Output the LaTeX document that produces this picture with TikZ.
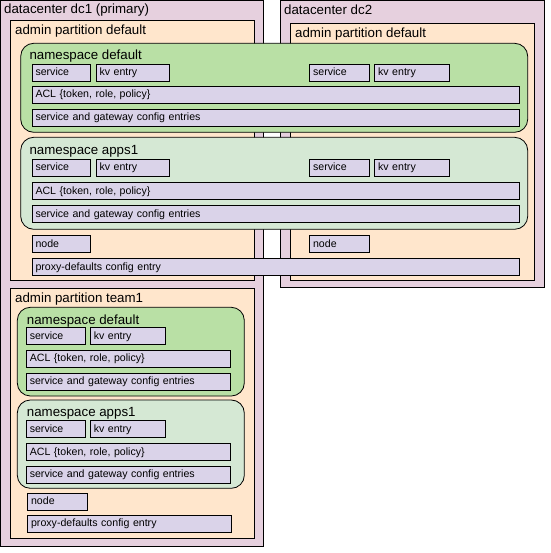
\documentclass[tikz,border=0pt]{standalone}
\usepackage{fontspec}
\setmainfont{Liberation Sans}
\definecolor{dcpink}{HTML}{E6D0DE}
\definecolor{peach}{HTML}{FFE6CC}
\definecolor{nsgreen}{HTML}{B9E0A5}
\definecolor{nslight}{HTML}{D5E8D4}
\definecolor{lav}{HTML}{DAD3E9}
\tikzset{
  dcbox/.style={draw=black, line width=1pt, fill=dcpink},
  partbox/.style={draw=black, line width=1pt, fill=peach},
  nsdef/.style={draw=black, line width=0.8pt, fill=nsgreen, rounded corners=13pt},
  nsapp/.style={draw=black, line width=0.8pt, fill=nslight, rounded corners=13pt},
  hdr/.style={anchor=base west, inner sep=0pt, font=\fontsize{13.3}{15}\selectfont},
  item/.style={draw=black, line width=1pt, fill=lav, anchor=north west, inner xsep=3.3pt,
    inner ysep=0pt, minimum height=17pt, text height=8pt, text depth=2.6pt,
    align=left, font=\fontsize{10.6}{12}\selectfont}
}
\begin{document}
\begin{tikzpicture}[x=1pt,y=-1pt]
  \useasboundingbox (0,0) rectangle (550,553);

  % datacenter dc1
  \draw[dcbox] (0.5,0.5) rectangle (263.3,546);
  \node[hdr] (dc1lbl) at (4,14) {datacenter dc1 (primary)};
  \draw[partbox] (10.7,20.7) rectangle (254,280);
  \node[hdr] (dc1part) at (15,34.3) {admin partition default};

  % datacenter dc2
  \draw[dcbox] (280.7,0.5) rectangle (544.3,287.7);
  \node[hdr] (dc2lbl) at (284,14.5) {datacenter dc2};
  \draw[partbox] (290.7,24) rectangle (534,280);
  \node[hdr] (dc2part) at (295,37.3) {admin partition default};

  % namespace default, both datacenters
  \draw[nsdef] (20.7,43.3) rectangle (527.7,132.3);
  \node[hdr] (nsdefA) at (29.3,60) {namespace default};
  \node[item, text width=51.7pt] (svcA) at (31.7,64) {service};
  \node[item, text width=67pt] (kvA) at (95.7,64) {kv entry};
  \node[item, text width=53.1pt] (svcB) at (309.3,64) {service};
  \node[item, text width=67.8pt] (kvB) at (374.3,64) {kv entry};
  \node[item, text width=481pt] (aclA) at (31.7,86.3) {ACL \{token, role, policy\}};
  \node[item, text width=481pt] (cfgA) at (31.7,108.8) {service and gateway config entries};

  % namespace apps1, both datacenters
  \draw[nsapp] (20.7,137.3) rectangle (527.7,229.3);
  \node[hdr] (nsappA) at (29.3,154.3) {namespace apps1};
  \node[item, text width=51.7pt] (svcC) at (31.7,159.3) {service};
  \node[item, text width=67pt] (kvC) at (95.7,159.3) {kv entry};
  \node[item, text width=53.1pt] (svcD) at (309.3,159.3) {service};
  \node[item, text width=67.8pt] (kvD) at (374.3,159.3) {kv entry};
  \node[item, text width=481pt] (aclC) at (31.7,182.3) {ACL \{token, role, policy\}};
  \node[item, text width=481pt] (cfgC) at (31.7,205.3) {service and gateway config entries};

  \node[item, text width=52pt] (nodeA) at (31.7,235.3) {node};
  \node[item, text width=52.8pt] (nodeB) at (309.3,235.3) {node};
  \node[item, text width=481pt] (proxyA) at (31.7,258.3) {proxy-defaults config entry};

  % admin partition team1
  \draw[partbox] (10.7,288.3) rectangle (254,538.3);
  \node[hdr] (t1part) at (15,302) {admin partition team1};

  \draw[nsdef] (17.3,307.3) rectangle (244.3,396);
  \node[hdr] (t1nsdef) at (26.7,324.3) {namespace default};
  \node[item, text width=52.7pt] (svcE) at (26,327.3) {service};
  \node[item, text width=68pt] (kvE) at (90,327.3) {kv entry};
  \node[item, text width=197.4pt] (aclE) at (26,350) {ACL \{token, role, policy\}};
  \node[item, text width=197.4pt] (cfgE) at (26,373.2) {service and gateway config entries};

  \draw[nsapp] (17.3,400) rectangle (244.3,488.3);
  \node[hdr] (t1nsapp) at (26.7,416.5) {namespace apps1};
  \node[item, text width=52.7pt] (svcF) at (26,420.3) {service};
  \node[item, text width=68pt] (kvF) at (90,420.3) {kv entry};
  \node[item, text width=197.4pt] (aclF) at (26,443.3) {ACL \{token, role, policy\}};
  \node[item, text width=197.4pt] (cfgF) at (26,466.2) {service and gateway config entries};

  \node[item, text width=52.8pt] (nodeF) at (27.3,492.7) {node};
  \node[item, text width=196.8pt] (proxyF) at (27.3,514.5) {proxy-defaults config entry};
\end{tikzpicture}
\end{document}
